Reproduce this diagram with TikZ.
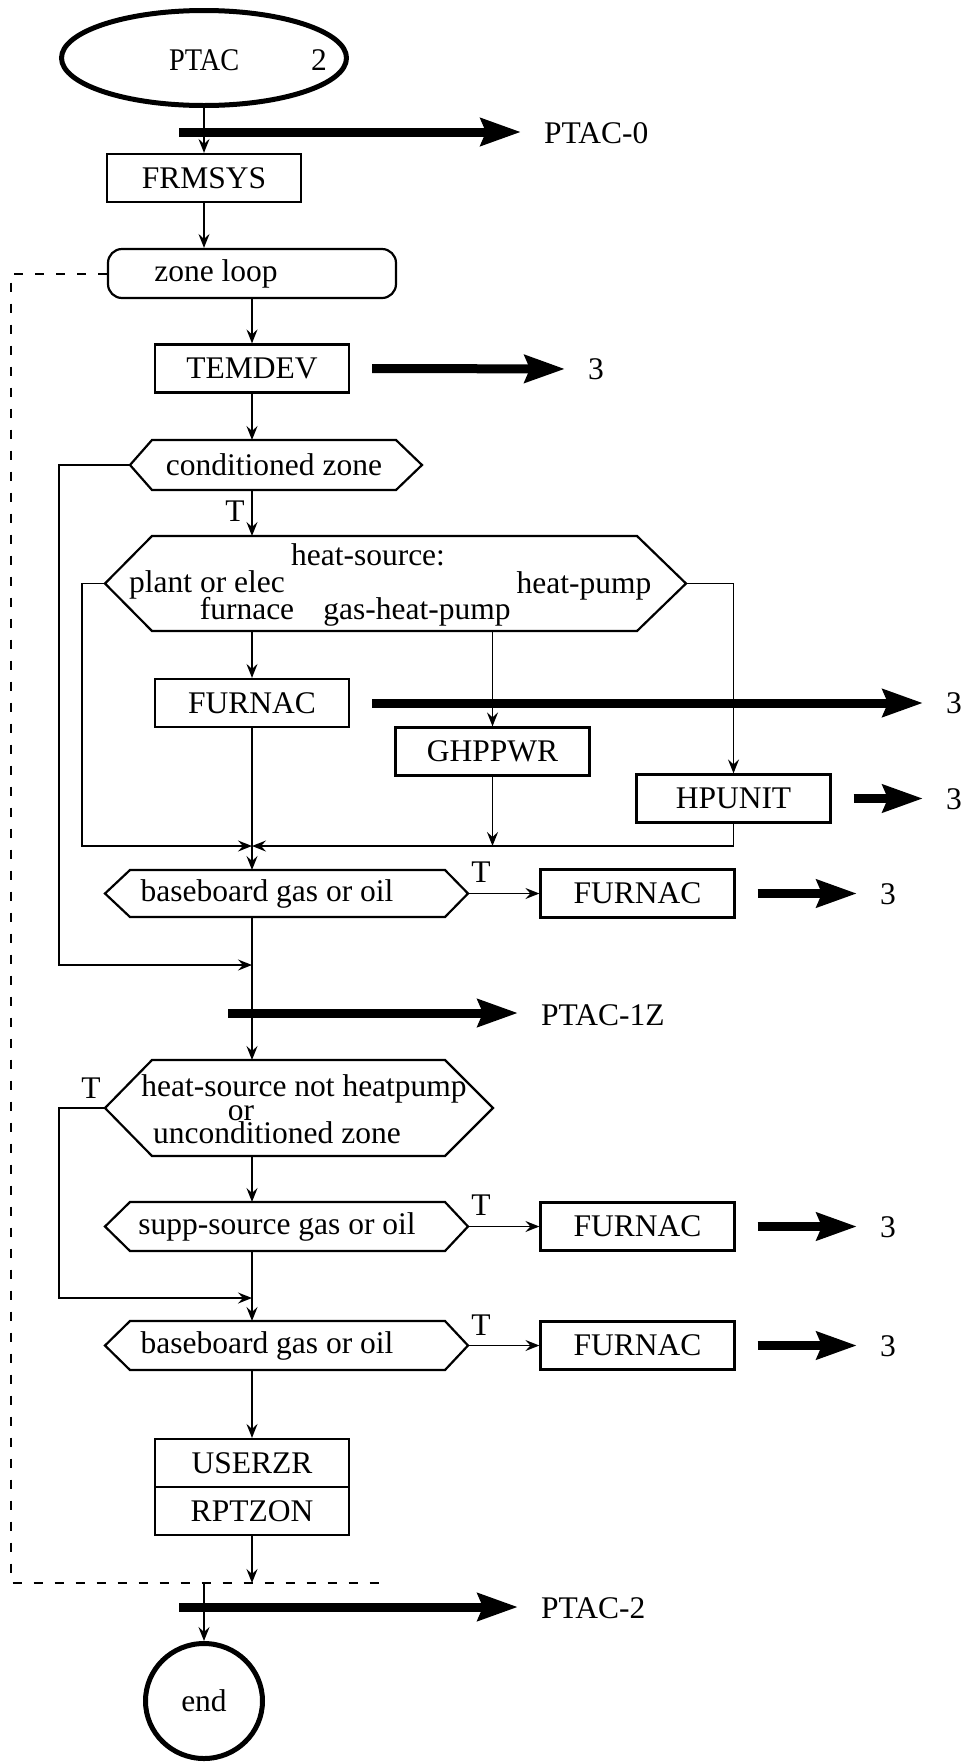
\documentclass[tikz,border=0pt]{standalone}
\usepackage{fontspec}
\usepackage{graphicx}
\setmainfont{Liberation Serif}
\usetikzlibrary{arrows.meta,calc,shapes.geometric}
\newcommand{\dgfont}{\fontsize{31.5pt}{36pt}\selectfont}
\newcommand{\hexframe}[3]{%
  \draw[hexline] (#1.north west) -- (#1.north east) -- ([xshift=#3]#1.east) -- (#1.south east) -- (#1.south west) -- ([xshift=-#2]#1.west) -- cycle;
  \coordinate (#1W) at ([xshift=-#2]#1.west);
  \coordinate (#1E) at ([xshift=#3]#1.east);
}
\begin{document}
\begin{tikzpicture}[x=1pt,y=-1pt,
  every node/.style={font=\dgfont},
  txt/.style={inner sep=0pt},
  box/.style={draw, line width=2.2pt, minimum width=194pt, minimum height=48pt, inner sep=0pt},
  hexin/.style={inner sep=0pt, outer sep=0pt},
  hexline/.style={line width=2.2pt, line join=miter},
  arr/.style={line width=1.6pt, -{Stealth[length=14pt,width=11pt,inset=5pt]}},
  plain/.style={line width=1.6pt},
  big/.style={line width=9pt, -{Stealth[length=40pt,width=27pt,inset=5pt]}, shorten >=23pt},
  loopline/.style={line width=2pt, dash pattern=on 9pt off 12pt},
  terminal/.style={draw, ellipse, line width=5pt, inner sep=0pt}
]
\useasboundingbox (0,0) rectangle (965,1762);

% nodes
\node[terminal, minimum width=285pt, minimum height=95pt] (start) at (204,58) {};
\node[txt] (startt) at (248,60) {\scalebox{0.9}[1]{PTAC}\hspace{72pt}2};
\node[box] (frmsys) at (204,178) {FRMSYS};
\node[draw, line width=2.2pt, rounded corners=14pt, minimum width=288pt, minimum height=49pt, inner sep=0pt] (zl) at (252,273.5) {};
\node[txt] (zlt) at (216,274) {zone loop};
\node[box] (temdev) at (252,368.5) {TEMDEV};

\node[hexin, minimum width=244pt, minimum height=50pt] (cz) at (274,465) {conditioned zone};
\hexframe{cz}{22pt}{26pt}
\node[txt] (czT) at (235,511) {T};

\node[hexin, minimum width=485pt, minimum height=95pt] (hs) at (394.5,583.5) {};
\hexframe{hs}{47pt}{49pt}
\node[txt, anchor=base] (hs1) at (368,565) {heat-source:};
\node[txt, anchor=base] (hs2) at (207,592) {plant or elec};
\node[txt, anchor=base] (hs3) at (584,593) {heat-pump};
\node[txt, anchor=base] (hs4) at (247,619) {furnace};
\node[txt, anchor=base] (hs5) at (417,619) {gas-heat-pump};

\node[box] (fur1) at (252,703) {FURNAC};
\node[box] (ghp) at (492.5,751.5) {GHPPWR};
\node[box] (hpu) at (733.5,798.5) {HPUNIT};
\coordinate (m0) at (252,846);

\node[hexin, minimum width=315pt, minimum height=47pt] (bb1) at (287.5,893.5) {};
\hexframe{bb1}{25pt}{23pt}
\node[txt] (bb1t) at (267,893.5) {baseboard gas or oil};
\node[txt] (bb1T) at (481,872) {T};
\node[box] (fur2) at (637.5,893.5) {FURNAC};
\coordinate (m1) at (252,965);

\node[hexin, minimum width=293pt, minimum height=96pt] (hn) at (298.5,1108) {};
\hexframe{hn}{47pt}{48pt}
\node[txt, anchor=base] (hn1) at (304,1096) {heat-source not heatpump};
\node[txt, anchor=base] (hn2) at (241,1120) {or};
\node[txt, anchor=base] (hn3) at (277,1143) {unconditioned zone};
\node[txt] (hnT) at (91,1088) {T};

\node[hexin, minimum width=315pt, minimum height=49pt] (ss) at (287.5,1226.5) {};
\hexframe{ss}{25pt}{23pt}
\node[txt] (sst) at (277,1226.5) {supp-source gas or oil};
\node[txt] (ssT) at (481,1205) {T};
\node[box] (fur3) at (637.5,1226.5) {FURNAC};
\coordinate (m2) at (252,1298);

\node[hexin, minimum width=315pt, minimum height=49pt] (bb2) at (287.5,1345.5) {};
\hexframe{bb2}{25pt}{23pt}
\node[txt] (bb2t) at (267,1345.5) {baseboard gas or oil};
\node[txt] (bb2T) at (481,1325) {T};
\node[box] (fur4) at (637.5,1345.5) {FURNAC};

\node[box] (userzr) at (252,1463) {USERZR};
\node[box] (rptzon) at (252,1511) {RPTZON};
\coordinate (dcorner) at (11,1583);
\coordinate (dend) at (390,1583);
\node[terminal, minimum width=117pt, minimum height=115pt] (end) at (204,1701) {end};

% labels of off-page connectors
\node[txt, anchor=west] (l0) at (544,133) {PTAC-0};
\node[txt, anchor=west] (l3a) at (588,369) {3};
\node[txt, anchor=west] (l3b) at (946,703) {3};
\node[txt, anchor=west] (l3c) at (946,799) {3};
\node[txt, anchor=west] (l3d) at (880,894) {3};
\node[txt, anchor=west] (l1z) at (541,1015) {PTAC-1Z};
\node[txt, anchor=west] (l3e) at (880,1227) {3};
\node[txt, anchor=west] (l3f) at (880,1346) {3};
\node[txt, anchor=west] (l2) at (541,1608) {PTAC-2};
\coordinate (p0) at (179,132);
\coordinate (p1) at (228,1013);
\coordinate (p2) at (179,1607);

% connectors
\draw[arr] (start.south) -- (frmsys.north);
\draw[arr] (frmsys.south) -- (frmsys.south |- zl.north);
\draw[arr] (zl.south) -- (temdev.north);
\draw[loopline] (zl.west) -| (dcorner) -- (dend);
\draw[arr] (temdev.south) -- (temdev.south |- cz.north);
\draw[arr] (temdev.south |- cz.south) -- (temdev.south |- hs.north);
\draw[arr] (czW) -- ++(-71,0) |- (m1);
\draw[arr] (hsW) -- ++(-23,0) |- (m0);
\draw[arr] (hsE) -| (hpu.north);
\draw[arr] (hpu.south) |- (m0);
\draw[arr] (fur1.north |- hs.south) -- (fur1.north);
\draw[plain] (fur1.south) -- (m0);
\draw[arr] (ghp.north |- hs.south) -- (ghp.north);
\draw[arr] (ghp.south) -- (ghp.south |- m0);
\draw[arr] (m0) -- (m0 |- bb1.north);
\draw[arr] (bb1E) -- (fur2.west);
\draw[arr] (m0 |- bb1.south) -- (m0 |- hn.north);
\draw[arr] (hnW) -- ++(-46,0) |- (m2);
\draw[arr] (m0 |- hn.south) -- (m0 |- ss.north);
\draw[arr] (ssE) -- (fur3.west);
\draw[arr] (m0 |- ss.south) -- (m0 |- bb2.north);
\draw[arr] (bb2E) -- (fur4.west);
\draw[arr] (m0 |- bb2.south) -- (userzr.north);
\draw[arr] (rptzon.south) -- (rptzon.south |- dend);
\draw[arr] (end.north |- dend) -- (end.north);

% thick off-page arrows
\draw[big] (p0) -- (p0 -| l0.west);
\draw[big] ([xshift=22pt]temdev.east) -- (l3a.west);
\draw[big] ([xshift=22pt]fur1.east) -- (fur1.east -| l3b.west);
\draw[big] ([xshift=22pt]hpu.east) -- (hpu.east -| l3c.west);
\draw[big] ([xshift=22pt]fur2.east) -- (fur2.east -| l3d.west);
\draw[big] (p1) -- (p1 -| l1z.west);
\draw[big] ([xshift=22pt]fur3.east) -- (fur3.east -| l3e.west);
\draw[big] ([xshift=22pt]fur4.east) -- (fur4.east -| l3f.west);
\draw[big] (p2) -- (p2 -| l2.west);
\end{tikzpicture}
\end{document}
